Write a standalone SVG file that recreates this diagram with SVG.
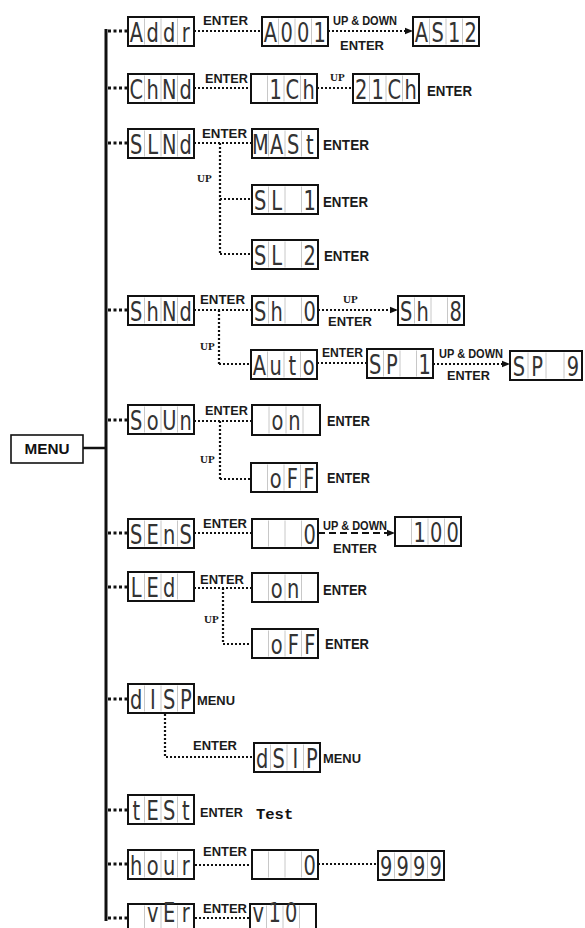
<svg xmlns="http://www.w3.org/2000/svg" width="585" height="928" viewBox="0 0 585 928">
<defs>
<style>
.box{fill:#fff;stroke:#111;stroke-width:2}
.div{stroke:#c8c8c8;stroke-width:1}
.seg{font-family:"DejaVu Sans",sans-serif;font-size:27px;fill:#333;text-anchor:middle}
.en{font-family:"Liberation Sans",Arial,sans-serif;font-weight:bold;font-size:13px;fill:#1a1a1a}
.en2{font-size:15px}
.ud{font-size:12px}
.up{font-family:"Liberation Serif","Times New Roman",serif;font-weight:bold;font-size:11px;fill:#1a1a1a}
.dot{fill:none;stroke:#111;stroke-width:2.2;stroke-dasharray:2 2}
.bdot{fill:none;stroke:#111;stroke-width:3;stroke-dasharray:3 2.5}
.dash{fill:none;stroke:#111;stroke-width:2;stroke-dasharray:7 4}
.mono{font-family:"Liberation Mono","Courier New",monospace;font-size:15.5px;font-weight:bold;fill:#111}
</style>
<g id="lcd"><rect class="box" x="0" y="0" width="66" height="29"/><path class="div" d="M16.5 1.5V27.5M33 1.5V27.5M49.5 1.5V27.5"/></g>
<marker id="ah" viewBox="0 0 10 10" refX="10" refY="5" markerWidth="8" markerHeight="8" markerUnits="userSpaceOnUse" orient="auto"><path d="M0 1L10 5L0 9z" fill="#111"/></marker>
</defs>
<rect width="585" height="928" fill="#fff"/>

<g id="connectors">
<line x1="106" y1="29" x2="106" y2="921" stroke="#111" stroke-width="3"/>
<line x1="83" y1="448" x2="106" y2="448" stroke="#111" stroke-width="2.5"/>
<path class="bdot" d="M108 31H128M108 88H128M108 143H128M108 310H128M108 420H128M108 533H128M108 587H128M108 699H128M108 810H128M108 864H128M108 918H128"/>
<!-- Addr -->
<path class="dot" d="M194 31H262"/>
<text class="en" x="203" y="25" textLength="45" lengthAdjust="spacingAndGlyphs">ENTER</text>
<path class="dot" d="M328 31H413" marker-end="url(#ah)"/>
<text class="en ud" x="333" y="25" textLength="64" lengthAdjust="spacingAndGlyphs">UP &amp; DOWN</text>
<text class="en" x="340" y="50" textLength="44" lengthAdjust="spacingAndGlyphs">ENTER</text>
<!-- ChNd -->
<path class="dot" d="M194 88H251"/>
<text class="en" x="205" y="83" textLength="43" lengthAdjust="spacingAndGlyphs">ENTER</text>
<path class="dot" d="M317 88H353"/>
<text class="up" x="330" y="81">UP</text>
<text class="en en2" x="427" y="96" textLength="45" lengthAdjust="spacingAndGlyphs">ENTER</text>
<!-- SLNd -->
<path class="dot" d="M194 143H252M220 143V254M220 199H252M220 254H252"/>
<text class="en" x="202" y="138" textLength="45" lengthAdjust="spacingAndGlyphs">ENTER</text>
<text class="up" x="197" y="182">UP</text>
<text class="en en2" x="323" y="150" textLength="46" lengthAdjust="spacingAndGlyphs">ENTER</text>
<text class="en en2" x="323" y="207" textLength="45" lengthAdjust="spacingAndGlyphs">ENTER</text>
<text class="en en2" x="324" y="261" textLength="45" lengthAdjust="spacingAndGlyphs">ENTER</text>
<!-- ShNd -->
<path class="dot" d="M194 310H252M219 310V364M219 364H251"/>
<text class="en" x="200" y="304" textLength="45" lengthAdjust="spacingAndGlyphs">ENTER</text>
<text class="up" x="200" y="350">UP</text>
<path class="dot" d="M318 310H398" marker-end="url(#ah)"/>
<text class="up" x="343" y="303">UP</text>
<text class="en" x="328" y="326" textLength="44" lengthAdjust="spacingAndGlyphs">ENTER</text>
<path class="dot" d="M317 363H367"/>
<text class="en" x="322" y="357" textLength="41" lengthAdjust="spacingAndGlyphs">ENTER</text>
<path class="dot" d="M433 364H510" marker-end="url(#ah)"/>
<text class="en ud" x="439" y="358" textLength="64" lengthAdjust="spacingAndGlyphs">UP &amp; DOWN</text>
<text class="en" x="447" y="380" textLength="43" lengthAdjust="spacingAndGlyphs">ENTER</text>
<!-- SoUn -->
<path class="dot" d="M194 421H252M220 421V479M220 479H251"/>
<text class="en" x="205" y="415" textLength="43" lengthAdjust="spacingAndGlyphs">ENTER</text>
<text class="up" x="200" y="463">UP</text>
<text class="en en2" x="327" y="426" textLength="43" lengthAdjust="spacingAndGlyphs">ENTER</text>
<text class="en en2" x="327" y="483" textLength="43" lengthAdjust="spacingAndGlyphs">ENTER</text>
<!-- SEnS -->
<path class="dot" d="M194 533H252"/>
<text class="en" x="203" y="528" textLength="44" lengthAdjust="spacingAndGlyphs">ENTER</text>
<path class="dash" d="M318 533H395" marker-end="url(#ah)"/>
<text class="en ud" x="323" y="530" textLength="64" lengthAdjust="spacingAndGlyphs">UP &amp; DOWN</text>
<text class="en" x="333" y="553" textLength="44" lengthAdjust="spacingAndGlyphs">ENTER</text>
<!-- LEd -->
<path class="dot" d="M194 588H252M223 588V644M223 644H252"/>
<text class="en" x="200" y="584" textLength="44" lengthAdjust="spacingAndGlyphs">ENTER</text>
<text class="up" x="204" y="623">UP</text>
<text class="en en2" x="323" y="595" textLength="44" lengthAdjust="spacingAndGlyphs">ENTER</text>
<text class="en en2" x="325" y="649" textLength="44" lengthAdjust="spacingAndGlyphs">ENTER</text>
<!-- dISP -->
<text class="en" x="197" y="705" textLength="38" lengthAdjust="spacingAndGlyphs">MENU</text>
<path class="dot" d="M165 714V757H254"/>
<text class="en" x="193" y="750" textLength="44" lengthAdjust="spacingAndGlyphs">ENTER</text>
<text class="en" x="323" y="763" textLength="38" lengthAdjust="spacingAndGlyphs">MENU</text>
<!-- tESt -->
<text class="en" x="200" y="817" textLength="43" lengthAdjust="spacingAndGlyphs">ENTER</text>
<text class="mono" x="256" y="819">Test</text>
<!-- hour -->
<path class="dot" d="M195 865H252M318 864H378"/>
<text class="en" x="203" y="856" textLength="44" lengthAdjust="spacingAndGlyphs">ENTER</text>
<!-- vEr -->
<path class="dot" d="M195 918H250"/>
<text class="en" x="203" y="913" textLength="44" lengthAdjust="spacingAndGlyphs">ENTER</text>
</g>

<g id="menu">
<rect x="11" y="435" width="72" height="28" fill="#fff" stroke="#111" stroke-width="1.6"/>
<text x="47" y="454" text-anchor="middle" font-family="Liberation Sans, Arial, sans-serif" font-weight="bold" font-size="14" fill="#111" textLength="45" lengthAdjust="spacingAndGlyphs">MENU</text>
</g>

<g id="n-addr" transform="translate(128 17)"><use href="#lcd"/><text class="seg" transform="scale(.72 1)" x="11.5 34.4 57.3 80.2" y="24.5">Addr</text></g>
<g id="n-a001" transform="translate(262 17)"><use href="#lcd"/><text class="seg" transform="scale(.72 1)" x="11.5 34.4 57.3 80.2" y="24.5">A001</text></g>
<g id="n-as12" transform="translate(413 17)"><use href="#lcd"/><text class="seg" transform="scale(.72 1)" x="11.5 34.4 57.3 80.2" y="24.5">AS12</text></g>

<g id="n-chnd" transform="translate(128 74)"><use href="#lcd"/><text class="seg" transform="scale(.72 1)" x="11.5 34.4 57.3 80.2" y="24.5">ChNd</text></g>
<g id="n-1ch" transform="translate(251 74)"><use href="#lcd"/><text class="seg" transform="scale(.72 1)" x="34.4 57.3 80.2" y="24.5">1Ch</text></g>
<g id="n-21ch" transform="translate(353 74)"><use href="#lcd"/><text class="seg" transform="scale(.72 1)" x="11.5 34.4 57.3 80.2" y="24.5">21Ch</text></g>

<g id="n-slnd" transform="translate(128 129)"><use href="#lcd"/><text class="seg" transform="scale(.72 1)" x="11.5 34.4 57.3 80.2" y="24.5">SLNd</text></g>
<g id="n-mast" transform="translate(252 129)"><use href="#lcd"/><text class="seg" transform="scale(.72 1)" x="11.5 34.4 57.3 80.2" y="24.5">MASt</text></g>
<g id="n-sl1" transform="translate(252 185)"><use href="#lcd"/><text class="seg" transform="scale(.72 1)" x="11.5 34.4 57.3 80.2" y="24.5">SL 1</text></g>
<g id="n-sl2" transform="translate(252 240)"><use href="#lcd"/><text class="seg" transform="scale(.72 1)" x="11.5 34.4 57.3 80.2" y="24.5">SL 2</text></g>

<g id="n-shnd" transform="translate(128 296)"><use href="#lcd"/><text class="seg" transform="scale(.72 1)" x="11.5 34.4 57.3 80.2" y="24.5">ShNd</text></g>
<g id="n-sh0" transform="translate(252 296)"><use href="#lcd"/><text class="seg" transform="scale(.72 1)" x="11.5 34.4 57.3 80.2" y="24.5">Sh 0</text></g>
<g id="n-sh8" transform="translate(398 296)"><use href="#lcd"/><text class="seg" transform="scale(.72 1)" x="11.5 34.4 57.3 80.2" y="24.5">Sh 8</text></g>
<g id="n-auto" transform="translate(251 350)"><use href="#lcd"/><text class="seg" transform="scale(.72 1)" x="11.5 34.4 57.3 80.2" y="24.5">Auto</text></g>
<g id="n-sp1" transform="translate(367 349)"><use href="#lcd"/><text class="seg" transform="scale(.72 1)" x="11.5 34.4 57.3 80.2" y="24.5">SP 1</text></g>
<g id="n-sp9" transform="translate(510 351)"><rect class="box" x="0" y="0" width="72" height="29"/><path class="div" d="M18 1.5V27.5M36 1.5V27.5M54 1.5V27.5"/><text class="seg" transform="scale(.72 1)" x="12.5 37.5 62.5 87.5" y="24.5">SP 9</text></g>

<g id="n-soun" transform="translate(128 405)"><use href="#lcd"/><text class="seg" transform="scale(.72 1)" x="11.5 34.4 57.3 80.2" y="24.5">SoUn</text></g>
<g id="n-soun-on" transform="translate(252 405)"><rect class="box" x="0" y="0" width="68" height="30"/><path class="div" d="M17 1.5V28.5M34 1.5V28.5M51 1.5V28.5"/><text class="seg" transform="scale(.72 1)" x="35.4 59" y="25.5">on</text></g>
<g id="n-soun-off" transform="translate(251 463)"><use href="#lcd"/><text class="seg" transform="scale(.72 1)" x="34.4 57.3 80.2" y="24.5">oFF</text></g>

<g id="n-sens" transform="translate(128 519)"><use href="#lcd"/><text class="seg" transform="scale(.72 1)" x="11.5 34.4 57.3 80.2" y="24.5">SEnS</text></g>
<g id="n-sens-0" transform="translate(252 519)"><use href="#lcd"/><text class="seg" transform="scale(.72 1)" x="80.2" y="24.5">0</text></g>
<g id="n-100" transform="translate(395 517)"><use href="#lcd"/><text class="seg" transform="scale(.72 1)" x="34.4 57.3 80.2" y="24.5">100</text></g>

<g id="n-led" transform="translate(128 572)"><use href="#lcd"/><text class="seg" transform="scale(.72 1)" x="11.5 34.4 57.3" y="24.5">LEd</text></g>
<g id="n-led-on" transform="translate(252 573)"><use href="#lcd"/><text class="seg" transform="scale(.72 1)" x="34.4 57.3" y="24.5">on</text></g>
<g id="n-led-off" transform="translate(252 629)"><use href="#lcd"/><text class="seg" transform="scale(.72 1)" x="34.4 57.3 80.2" y="24.5">oFF</text></g>

<g id="n-disp" transform="translate(128 684)"><use href="#lcd"/><text class="seg" transform="scale(.72 1)" x="11.5 34.4 57.3 80.2" y="24.5">dISP</text></g>
<g id="n-dsip" transform="translate(254 743)"><use href="#lcd"/><text class="seg" transform="scale(.72 1)" x="11.5 34.4 57.3 80.2" y="24.5">dSIP</text></g>

<g id="n-test" transform="translate(128 795)"><use href="#lcd"/><text class="seg" transform="scale(.72 1)" x="11.5 34.4 57.3 80.2" y="24.5">tESt</text></g>

<g id="n-hour" transform="translate(128 850)"><use href="#lcd"/><text class="seg" transform="scale(.72 1)" x="11.5 34.4 57.3 80.2" y="24.5">hour</text></g>
<g id="n-hour-0" transform="translate(252 850)"><use href="#lcd"/><text class="seg" transform="scale(.72 1)" x="80.2" y="24.5">0</text></g>
<g id="n-9999" transform="translate(378 851)"><use href="#lcd"/><text class="seg" transform="scale(.72 1)" x="11.5 34.4 57.3 80.2" y="24.5">9999</text></g>

<g id="n-ver" transform="translate(128 904)"><use href="#lcd"/><text class="seg" transform="scale(.72 1)" x="34.4 57.3 80.2" y="18" font-size="20">vEr</text></g>
<g id="n-v10" transform="translate(250 904)"><use href="#lcd"/><text class="seg" transform="scale(.72 1)" x="11.5 34.4 57.3" y="18" font-size="20">v10</text></g>
</svg>
